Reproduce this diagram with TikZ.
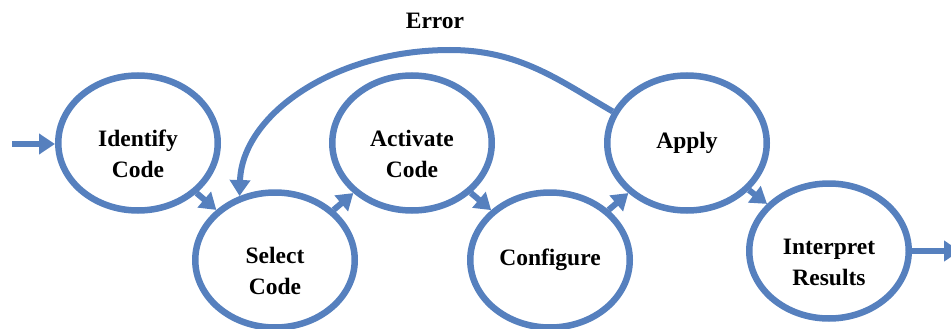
\documentclass[tikz,border=0pt]{standalone}
\usepackage{fontspec}
\setmainfont{Liberation Serif}
\usetikzlibrary{shapes.geometric,arrows.meta}
\definecolor{flowblue}{RGB}{86,128,190}
\tikzset{
  stage/.style={shape=ellipse, draw=flowblue, line width=6.5pt, minimum width=159.5pt, minimum height=135pt, inner sep=0pt},
  lbl/.style={font=\bfseries\fontsize{23.5pt}{31pt}\selectfont, align=center, text=black},
  flow/.style={draw=flowblue, line width=6pt, -{Triangle[length=16pt,width=20pt]}},
}
\begin{document}
\begin{tikzpicture}[x=1pt,y=-1pt]
\useasboundingbox (0,0) rectangle (951,329);
\clip (0,0) rectangle (951,329);
% stages
\node[stage] (id)   at (138,143) {};
\node[stage] (sel)  at (275,260) {};
\node[stage] (act)  at (412,143) {};
\node[stage] (conf) at (550,260) {};
\node[stage] (ap)   at (687,143) {};
\node[stage] (ir)   at (829,251) {};
% labels
\node[lbl] (tid)   at ([yshift=-11pt]id.center)   {Identify\\Code};
\node[lbl] (tsel)  at ([yshift=-11pt]sel.center)  {Select\\Code};
\node[lbl] (tact)  at ([yshift=-11pt]act.center)  {Activate\\Code};
\node[lbl] (tconf) at (conf.center) {Configure};
\node[lbl] (tap)   at (ap.center)   {Apply};
\node[lbl] (tir)   at ([yshift=-11pt]ir.center)   {Interpret\\Results};
\node[lbl] (err)   at (435,21) {Error};
% in / out
\coordinate (inpt) at (12,144);
\coordinate (outpt) at (960,251);
\draw[flow] (inpt) -- (id.west |- inpt);
\draw[flow] (ir.east) -- (outpt);
% steps
\draw[flow] (id) -- (sel);
\draw[flow] (sel) -- (act);
\draw[flow] (act) -- (conf);
\draw[flow] (conf) -- (ap);
\draw[flow] (ap) -- (ir);
% error loop
\coordinate (errtop) at (450,50);
\draw[flow] (ap.157.5) .. controls (560,81) and (520,50) .. (errtop)
  .. controls (334,50) and (242,115) .. (sel.119);
\end{tikzpicture}
\end{document}
